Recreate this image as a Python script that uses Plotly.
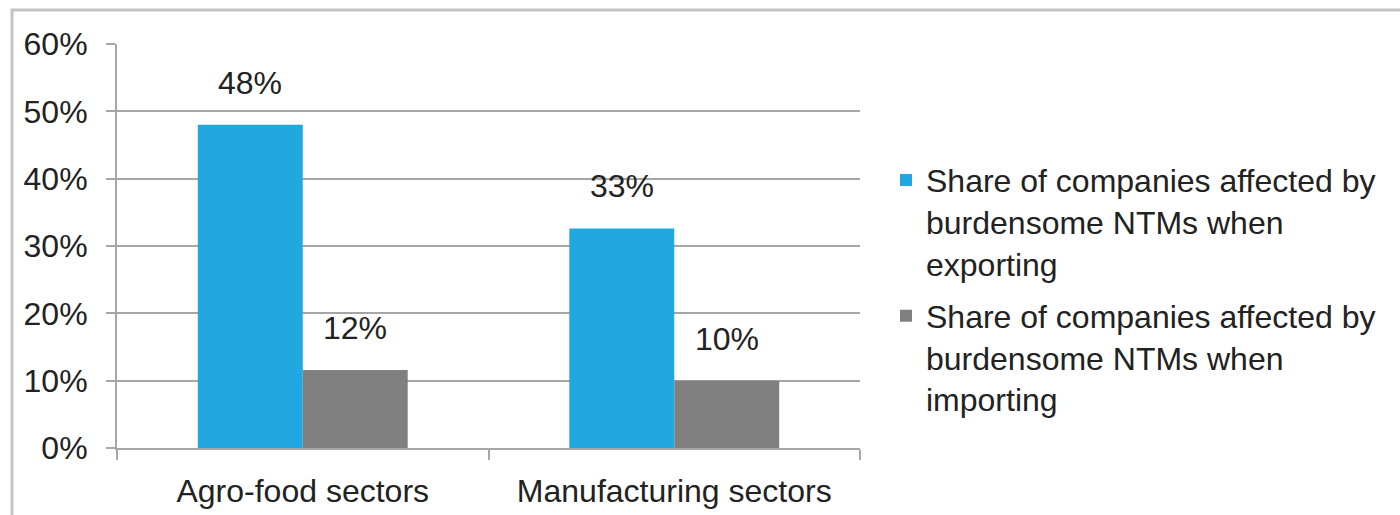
import plotly.graph_objects as go

categories = ["Agro-food sectors", "Manufacturing sectors"]
exporting = [0.48, 0.326]
importing = [0.116, 0.10]
series_names = [
    "Share of companies affected by<br>burdensome NTMs when<br>exporting",
    "Share of companies affected by<br>burdensome NTMs when<br>importing",
]
y_ticks = [0, 0.1, 0.2, 0.3, 0.4, 0.5, 0.6]

FONT = "Liberation Sans, Arial, sans-serif"
TXT = "#222222"
BLUE = "#21A8E0"
GRAY = "#808080"
FS = 32

fig = go.Figure()
fig.add_trace(go.Bar(x=categories, y=exporting, name=series_names[0], legendgroup="exp",
                     marker=dict(color=BLUE, line=dict(width=0))))
fig.add_trace(go.Bar(x=categories, y=importing, name=series_names[1], legendgroup="imp",
                     marker=dict(color=GRAY, line=dict(width=0))))

half = (1 - 0.435) / 4
annotations = []
for i in range(len(categories)):
    for vals, dx in ((exporting, -half), (importing, half)):
        annotations.append(dict(x=i + dx, y=vals[i], xref="x", yref="y",
                                text=f"{round(vals[i]*100):.0f}%", showarrow=False,
                                yanchor="bottom", yshift=22,
                                font=dict(family=FONT, size=FS, color=TXT)))

fig.update_layout(
    width=1400, height=515,
    margin=dict(l=117, r=540, t=44, b=67, autoexpand=False),
    paper_bgcolor="white", plot_bgcolor="white",
    barmode="group", bargap=0.435, bargroupgap=0,
    font=dict(family=FONT, size=FS, color=TXT),
    showlegend=True,
    legend=dict(x=1.035, xanchor="left", y=0.392, yanchor="middle", valign="top",
                traceorder="grouped", tracegroupgap=8,
                font=dict(family=FONT, size=FS, color=TXT),
                bgcolor="rgba(0,0,0,0)"),
    annotations=annotations,
    shapes=[dict(type="rect", xref="paper", yref="paper",
                 x0=(12 - 117) / 743, x1=(1420 - 117) / 743,
                 y0=-0.3, y1=(448 - 10) / 404,
                 line=dict(color="#c4c4c4", width=3), fillcolor="rgba(0,0,0,0)",
                 layer="below")],
)
fig.update_xaxes(type="category", showline=True, linecolor="#a6a6a6", linewidth=2,
                 ticks="outside", tickson="boundaries", ticklen=10, tickcolor="#a6a6a6",
                 tickwidth=2, showgrid=False, tickangle=0, automargin=False,
                 ticklabelstandoff=14,
                 tickfont=dict(family=FONT, size=FS, color=TXT))
fig.update_yaxes(range=[0, 0.6], tickvals=y_ticks, tickformat=".0%", showline=True,
                 linecolor="#a6a6a6", linewidth=2, ticks="outside", ticklen=9,
                 tickcolor="#a6a6a6", tickwidth=2, showgrid=True, gridcolor="#a6a6a6",
                 gridwidth=2, zeroline=False, automargin=False, ticklabelstandoff=12,
                 tickfont=dict(family=FONT, size=FS, color=TXT))

fig.write_html("out.html")
